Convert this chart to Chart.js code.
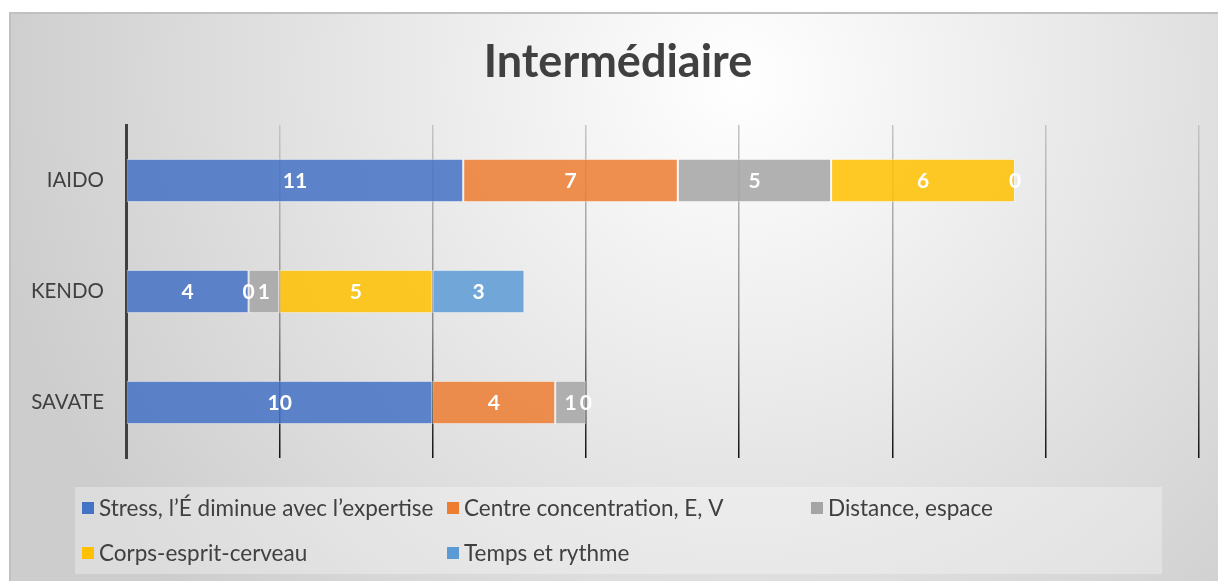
<!DOCTYPE html>
<html lang="fr">
<head>
<meta charset="UTF-8">
<title>Intermédiaire</title>
<script src="https://cdn.jsdelivr.net/npm/chart.js"></script>
<style>
  body { margin: 0; background: #fff; }
  #wrap { width: 1218px; height: 581px; }
</style>
</head>
<body>
<div id="wrap"><canvas id="grafico"></canvas></div>
<script>
// dados
const titulo = 'Intermédiaire';
const categorias = ['IAIDO', 'KENDO', 'SAVATE'];
const stress = [11, 4, 10];
const centre = [7, 0, 4];
const distance = [5, 1, 1];
const corps = [6, 5, 0];
const temps = [0, 3, null];
const nomes = ['Stress, l’É diminue avec l’expertise', 'Centre concentration, E, V', 'Distance, espace', 'Corps-esprit-cerveau', 'Temps et rythme'];
const cores = ['#4472C4', '#ED7D31', '#A5A5A5', '#FFC000', '#5B9BD5'];
const eixoMax = 35;
const passo = 5;

const valores = [stress, centre, distance, corps, temps];
const fonte = 'Lato, "Noto Sans", sans-serif';

// fundo com degradê radial, borda e título
const fundo = {
    id: 'fundo',
    beforeDraw(chart) {
        const c = chart.ctx;
        c.save();
        c.fillStyle = '#fff';
        c.fillRect(0, 0, chart.width, chart.height);
        const g = c.createRadialGradient(740, 80, 0, 740, 80, 760);
        g.addColorStop(0, '#ffffff');
        g.addColorStop(1, '#cdcdcd');
        c.fillStyle = g;
        c.fillRect(10, 13, chart.width, chart.height);
        c.strokeStyle = '#c0c0c0';
        c.lineWidth = 2;
        c.strokeRect(10, 13, chart.width + 10, chart.height + 10);
        c.fillStyle = '#404040';
        c.font = 'bold 45px ' + fonte;
        c.textAlign = 'center';
        c.textBaseline = 'middle';
        c.fillText(titulo, 618, 62);
        c.restore();
    }
};

// rótulos brancos dentro das barras
const rotulos = {
    id: 'rotulos',
    afterDatasetsDraw(chart) {
        const c = chart.ctx;
        c.save();
        c.font = 'bold 21px ' + fonte;
        c.fillStyle = '#fff';
        c.textAlign = 'center';
        c.textBaseline = 'middle';
        chart.data.datasets.forEach((ds, i) => {
            const meta = chart.getDatasetMeta(i);
            meta.data.forEach((bar, j) => {
                const v = ds.data[j];
                if (v === null) return;
                c.fillText(String(v), (bar.x + bar.base) / 2, bar.y + 1);
            });
        });
        c.restore();
    }
};

// legenda em colunas, como no Excel
const legenda = {
    id: 'legenda',
    afterDraw(chart) {
        const c = chart.ctx;
        c.save();
        c.fillStyle = 'rgba(255,255,255,0.3)';
        c.fillRect(75, 487, 1087, 87);
        const colunas = [82, 447, 811];
        const linhas = [508, 553];
        c.font = '22.5px ' + fonte;
        c.textBaseline = 'middle';
        c.textAlign = 'left';
        chart.data.datasets.forEach((ds, i) => {
            const x = colunas[i % 3];
            const y = linhas[Math.floor(i / 3)];
            c.fillStyle = cores[i];
            c.fillRect(x, y - 6, 12, 12);
            c.fillStyle = '#404040';
            c.fillText(ds.label, x + 17, y + 1);
        });
        c.restore();
    }
};

function corGrade(context) {
    const chart = context.chart;
    const area = chart.chartArea;
    if (!area) return '#999';
    const g = chart.ctx.createLinearGradient(0, area.top, 0, area.bottom);
    g.addColorStop(0, '#c4c4c4');
    g.addColorStop(0.6, '#8a8a8a');
    g.addColorStop(1, '#111111');
    return g;
}

const datasets = nomes.map((nome, i) => ({
    label: nome,
    data: valores[i],
    backgroundColor: cores[i] + 'D9',
    borderColor: 'rgba(255,255,255,0.55)',
    borderWidth: (ctx) => (ctx.raw ? 1 : 0),
    borderSkipped: false,
    barPercentage: 0.39,
    categoryPercentage: 1
}));

const ctx = document.getElementById('grafico').getContext('2d');
const grafico = new Chart(ctx, {
    type: 'bar',
    data: { labels: categorias, datasets: datasets },
    plugins: [fundo, rotulos, legenda],
    options: {
        indexAxis: 'y',
        responsive: true,
        maintainAspectRatio: false,
        animation: false,
        layout: { padding: { top: 125, right: 19, bottom: 123, left: 0 } },
        plugins: {
            legend: { display: false },
            tooltip: { enabled: false },
            title: { display: false }
        },
        scales: {
            x: {
                stacked: true,
                min: 0,
                max: eixoMax,
                ticks: { display: false, stepSize: passo },
                grid: { color: corGrade, lineWidth: 1.5, drawTicks: false },
                border: { display: false }
            },
            y: {
                stacked: true,
                afterFit(s) { s.width = 126; },
                ticks: { color: '#404040', font: { family: fonte, size: 20.5 }, padding: 22 },
                grid: { display: false, drawTicks: false },
                border: { display: true, color: '#404040', width: 3 }
            }
        }
    }
});
</script>
</body>
</html>
